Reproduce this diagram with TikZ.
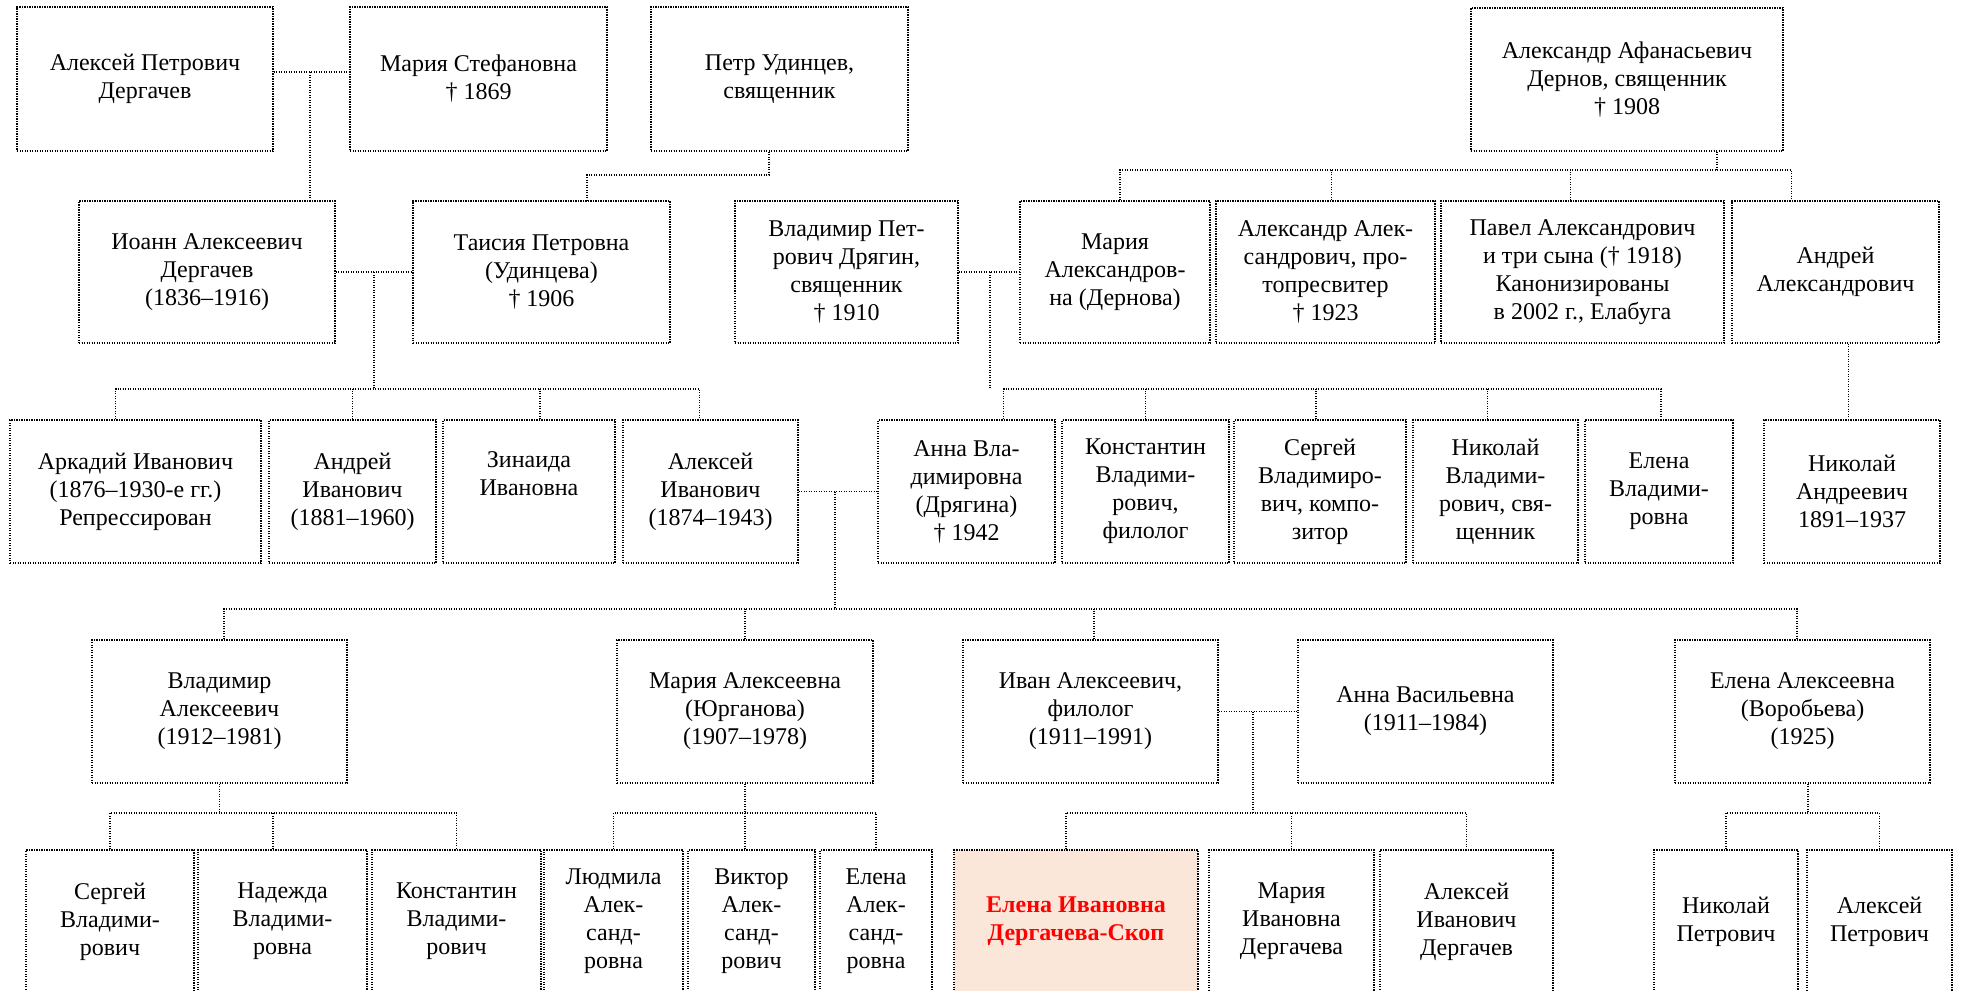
\documentclass[tikz,border=0pt]{standalone}
\usepackage{fontspec}
\setmainfont{Liberation Serif}
\definecolor{peach}{RGB}{251,231,218}
\begin{document}
\begin{tikzpicture}[x=1pt,y=-1pt,
	person/.style={draw,line width=1.3pt,dash pattern=on 1.3pt off 1.2pt,inner sep=0pt,align=center,font=\fontsize{24}{28}\selectfont},
	link/.style={line width=1.3pt,dash pattern=on 1.3pt off 1.2pt},
	me/.style={fill=peach,text=red,font=\fontsize{24}{28}\selectfont\bfseries}]
	\useasboundingbox (0,0) rectangle (1961,990);
	\node [person,minimum width=256,minimum height=144] at (145,79) (apd) {Алексей Петрович\\Дергачев};
	\node [person,minimum width=257,minimum height=144] at (478.5,79) (mst) {Мария Стефановна\\† 1869};
	\node [person,minimum width=257,minimum height=144] at (779.5,79) (pud) {Петр Удинцев,\\священник};
	\node [person,minimum width=312,minimum height=143] at (1627,79.5) (aad) {Александр Афанасьевич\\Дернов, священник\\† 1908};
	\node [person,minimum width=256,minimum height=142] at (207,272) (iad) {Иоанн Алексеевич\\Дергачев\\(1836–1916)};
	\node [person,minimum width=257,minimum height=142] at (541.5,272) (tpu) {Таисия Петровна\\(Удинцева)\\† 1906};
	\node [person,minimum width=223,minimum height=142] at (846.5,272) (vpd) {Владимир Пет-\\рович Дрягин,\\священник\\† 1910};
	\node [person,minimum width=190,minimum height=142] at (1115,272) (mad) {Мария\\Александров-\\на (Дернова)};
	\node [person,minimum width=219,minimum height=142] at (1325.5,272) (aal) {Александр Алек-\\сандрович, про-\\топресвитер\\† 1923};
	\node [person,minimum width=283,minimum height=142] at (1582.5,272) (pal) {Павел Александрович\\и три сына († 1918)\\Канонизированы\\в 2002 г., Елабуга};
	\node [person,minimum width=207,minimum height=142] at (1835.5,272) (ana) {Андрей\\Александрович};
	\node [person,minimum width=251,minimum height=143] at (135.5,491.5) (ai) {Аркадий Иванович\\(1876–1930-е гг.)\\Репрессирован};
	\node [person,minimum width=167,minimum height=143] at (352.5,491.5) (ani) {Андрей\\Иванович\\(1881–1960)};
	\node [person,minimum width=172,minimum height=143] at (529,491.5) (zi) {Зинаида\\Ивановна\\\strut};
	\node [person,minimum width=175,minimum height=143] at (710.5,491.5) (ali) {Алексей\\Иванович\\(1874–1943)};
	\node [person,minimum width=177,minimum height=143] at (966.5,491.5) (avl) {Анна Вла-\\димировна\\(Дрягина)\\† 1942};
	\node [person,minimum width=167,minimum height=143] at (1145.5,491.5) (kvl) {Константин\\Владими-\\рович,\\филолог};
	\node [person,minimum width=172,minimum height=143] at (1320,491.5) (svl) {Сергей\\Владимиро-\\вич, компо-\\зитор};
	\node [person,minimum width=165,minimum height=143] at (1495.5,491.5) (nvl) {Николай\\Владими-\\рович, свя-\\щенник};
	\node [person,minimum width=148,minimum height=143] at (1659,491.5) (evl) {Елена\\Владими-\\ровна};
	\node [person,minimum width=176,minimum height=143] at (1852,491.5) (nan) {Николай\\Андреевич\\1891–1937};
	\node [person,minimum width=255,minimum height=143] at (219.5,711.5) (vla) {Владимир\\Алексеевич\\(1912–1981)};
	\node [person,minimum width=256,minimum height=143] at (745,711.5) (mal) {Мария Алексеевна\\(Юрганова)\\(1907–1978)};
	\node [person,minimum width=255,minimum height=143] at (1090.5,711.5) (iva) {Иван Алексеевич,\\филолог\\(1911–1991)};
	\node [person,minimum width=255,minimum height=143] at (1425.5,711.5) (avs) {Анна Васильевна\\(1911–1984)};
	\node [person,minimum width=255,minimum height=143] at (1802.5,711.5) (eal) {Елена Алексеевна\\(Воробьева)\\(1925)};
	\node [person,minimum width=168,minimum height=143] at (110,921.5) (sv) {Сергей\\Владими-\\рович};
	\node [person,minimum width=169,minimum height=143] at (282.5,921.5) (nv) {Надежда\\Владими-\\ровна};
	\node [person,minimum width=169,minimum height=143] at (456.5,921.5) (kv) {Константин\\Владими-\\рович};
	\node [person,minimum width=139,minimum height=143] at (613.5,921.5) (lal) {Людмила\\Алек-\\санд-\\ровна};
	\node [person,minimum width=127,minimum height=143] at (751.5,921.5) (val) {Виктор\\Алек-\\санд-\\рович};
	\node [person,minimum width=112,minimum height=143] at (876,921.5) (elal) {Елена\\Алек-\\санд-\\ровна};
	\node [person,me,minimum width=244,minimum height=143] at (1076,921.5) (eid) {Елена Ивановна\\Дергачева-Скоп};
	\node [person,minimum width=165,minimum height=143] at (1291.5,921.5) (mid) {Мария\\Ивановна\\Дергачева};
	\node [person,minimum width=173,minimum height=143] at (1466.5,921.5) (aid) {Алексей\\Иванович\\Дергачев};
	\node [person,minimum width=144,minimum height=143] at (1726,921.5) (np) {Николай\\Петрович};
	\node [person,minimum width=145,minimum height=143] at (1879.5,921.5) (ap) {Алексей\\Петрович};
	\coordinate (j1) at (310,72);
	\coordinate (j2) at (769,175);
	\coordinate (j3) at (374,389);
	\coordinate (j4) at (1717,170);
	\coordinate (j5) at (990,389);
	\coordinate (j6) at (835,609);
	\coordinate (j7) at (218,813);
	\coordinate (j8) at (1253,813);
	\draw [link] (apd.east |- j1) -- (mst.west |- j1);
	\draw [link] (j1) -- (j1 |- iad.north);
	\draw [link] (j2 |- pud.south) -- (j2) -| ([xshift=45.5]tpu.north);
	\draw [link] (iad.east) -- (tpu.west);
	\draw [link] (j3 |- iad.east) -- (j3);
	\draw [link] ([xshift=-20]ai.north) |- ([xshift=-11]ali.north |- j3) -- ([xshift=-11]ali.north);
	\draw [link] (ani.north) -- (ani.north |- j3);
	\draw [link] ([xshift=11]zi.north) -- ([xshift=11]zi.north |- j3);
	\draw [link] (j4 |- aad.south) -- (j4);
	\draw [link] ([xshift=5]mad.north) |- ([xshift=-44]ana.north |- j4) -- ([xshift=-44]ana.north);
	\draw [link] ([xshift=6]aal.north) -- ([xshift=6]aal.north |- j4);
	\draw [link] ([xshift=-12]pal.north) -- ([xshift=-12]pal.north |- j4);
	\draw [link] (vpd.east) -- (mad.west);
	\draw [link] (j5 |- vpd.east) -- (j5);
	\draw [link] ([xshift=37]avl.north) |- ([xshift=2]evl.north |- j5) -- ([xshift=2]evl.north);
	\draw [link] (kvl.north) -- (kvl.north |- j5);
	\draw [link] ([xshift=-4]svl.north) -- ([xshift=-4]svl.north |- j5);
	\draw [link] ([xshift=-8]nvl.north) -- ([xshift=-8]nvl.north |- j5);
	\draw [link] ([xshift=13]ana.south) -- ([xshift=13]ana.south |- nan.north);
	\draw [link] (ali.east) -- (avl.west);
	\draw [link] (j6 |- ali.east) -- (j6);
	\draw [link] ([xshift=4.5]vla.north) |- ([xshift=-5.5]eal.north |- j6) -- ([xshift=-5.5]eal.north);
	\draw [link] (mal.north) -- (mal.north |- j6);
	\draw [link] ([xshift=3.5]iva.north) -- ([xshift=3.5]iva.north |- j6);
	\draw [link] (vla.south) -- (vla.south |- j7);
	\draw [link] (sv.north) |- (kv.north |- j7) -- (kv.north);
	\draw [link] ([xshift=-9.5]nv.north) -- ([xshift=-9.5]nv.north |- j7);
	\draw [link] (mal.south) -- (mal.south |- j7);
	\draw [link] (lal.north) |- (elal.north |- j7) -- (elal.north);
	\draw [link] ([xshift=-6.5]val.north) -- ([xshift=-6.5]val.north |- j7);
	\draw [link] (iva.east) -- (avs.west);
	\draw [link] (j8 |- iva.east) -- (j8);
	\draw [link] ([xshift=-10]eid.north) |- (aid.north |- j8) -- (aid.north);
	\draw [link] (mid.north) -- (mid.north |- j8);
	\draw [link] ([xshift=5.5]eal.south) -- ([xshift=5.5]eal.south |- j8);
	\draw [link] (np.north) |- (ap.north |- j8) -- (ap.north);
\end{tikzpicture}
\end{document}
